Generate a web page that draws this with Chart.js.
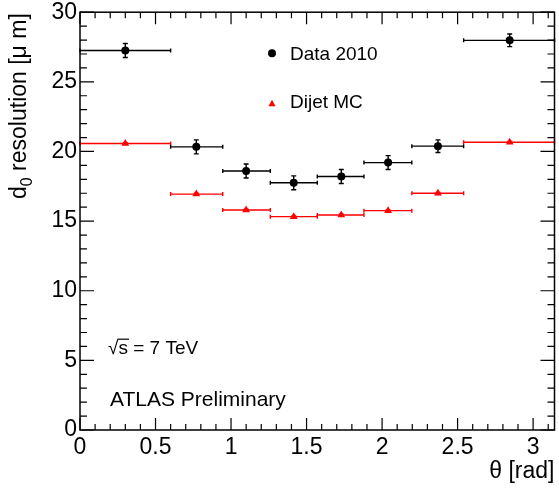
<!DOCTYPE html>
<html>
<head>
<meta charset="utf-8">
<script src="https://cdn.jsdelivr.net/npm/chart.js@4/dist/chart.umd.min.js"></script>
<style>
  html, body { margin: 0; padding: 0; background: #fff; }
  canvas { display: block; }
</style>
</head>
<body>
<canvas id="c" width="559" height="495"></canvas>
<script>
// ====== DATA ======
const binLow  = [0, 0.6, 0.945, 1.26, 1.571, 1.88, 2.197, 2.54];
const binHigh = [0.6, 0.945, 1.26, 1.571, 1.88, 2.197, 2.54, Math.PI];
const thetaCenters = [0.30, 0.77, 1.10, 1.415, 1.73, 2.04, 2.37, 2.845];

const dataRes = [27.25, 20.33, 18.6, 17.75, 18.2, 19.2, 20.38, 27.98];
const dataErr = [0.5, 0.5, 0.5, 0.5, 0.5, 0.5, 0.45, 0.45];
const mcRes   = [20.57, 16.94, 15.8, 15.32, 15.44, 15.75, 17.0, 20.66];
const mcErr   = [0.06, 0.06, 0.05, 0.05, 0.05, 0.05, 0.06, 0.06];

const xTicks = [0, 0.5, 1, 1.5, 2, 2.5, 3];
const yTicks = [0, 5, 10, 15, 20, 25, 30];

const FONT = "'Liberation Sans', Arial, Helvetica, sans-serif";

// ====== HELPERS ======
function drawErrors(ctx, xs, ys, vals, errs, color) {
  ctx.save();
  ctx.strokeStyle = color;
  ctx.lineWidth = 1.4;
  vals.forEach((v, i) => {
    const x1 = xs.getPixelForValue(binLow[i]);
    const x2 = xs.getPixelForValue(binHigh[i]);
    const xc = xs.getPixelForValue(thetaCenters[i]);
    const y  = ys.getPixelForValue(v);
    const yt = ys.getPixelForValue(v + errs[i]);
    const yb = ys.getPixelForValue(v - errs[i]);
    ctx.beginPath();
    ctx.moveTo(x1, y); ctx.lineTo(x2, y);
    ctx.moveTo(x1, y - 2); ctx.lineTo(x1, y + 2);
    ctx.moveTo(x2, y - 2); ctx.lineTo(x2, y + 2);
    ctx.moveTo(xc, yt); ctx.lineTo(xc, yb);
    ctx.moveTo(xc - 2.5, yt); ctx.lineTo(xc + 2.5, yt);
    ctx.moveTo(xc - 2.5, yb); ctx.lineTo(xc + 2.5, yb);
    ctx.stroke();
  });
  ctx.restore();
}

const rootStyle = {
  id: 'rootStyle',
  beforeDatasetsDraw(chart) {
    const { ctx, scales: { x, y } } = chart;
    drawErrors(ctx, x, y, mcRes, mcErr, '#ff0000');
    drawErrors(ctx, x, y, dataRes, dataErr, '#000000');
  },
  afterDraw(chart) {
    const { ctx, chartArea: a, scales: { x, y } } = chart;
    ctx.save();
    // frame
    ctx.strokeStyle = '#000';
    ctx.lineWidth = 1.5;
    ctx.strokeRect(a.left, a.top, a.right - a.left, a.bottom - a.top);

    // ticks, pointing inward, on all four sides
    ctx.lineWidth = 1.2;
    ctx.beginPath();
    for (let k = 0; k <= 31; k++) {
      const v = k / 10;
      const px = x.getPixelForValue(v);
      const len = (k % 5 === 0) ? 12 : 6;
      ctx.moveTo(px, a.bottom); ctx.lineTo(px, a.bottom - len);
      ctx.moveTo(px, a.top);    ctx.lineTo(px, a.top + len);
    }
    for (let k = 0; k <= 30; k++) {
      const py = y.getPixelForValue(k);
      const len = (k % 5 === 0) ? 14 : 7;
      ctx.moveTo(a.left, py);  ctx.lineTo(a.left + len, py);
      ctx.moveTo(a.right, py); ctx.lineTo(a.right - len, py);
    }
    ctx.stroke();

    // y title with subscript, right-aligned to the top of the frame
    ctx.fillStyle = '#000';
    ctx.translate(26, a.top + 1);
    ctx.rotate(-Math.PI / 2);
    ctx.textBaseline = 'alphabetic';
    ctx.textAlign = 'left';
    const big = `23px ${FONT}`, small = `16px ${FONT}`;
    ctx.font = big;
    const wD = ctx.measureText('d').width;
    const rest = ' resolution [\u03BC m]';
    const wR = ctx.measureText(rest).width;
    ctx.font = small;
    const w0 = ctx.measureText('0').width;
    let tx = -(wD + w0 + wR);
    ctx.font = big;
    ctx.fillText('d', tx, 0);
    ctx.font = small;
    ctx.fillText('0', tx + wD, 6);
    ctx.font = big;
    ctx.fillText(rest, tx + wD + w0, 0);
    ctx.setTransform(1, 0, 0, 1, 0, 0);

    // legend
    const lx = a.left + 192;
    ctx.fillStyle = '#000';
    ctx.beginPath();
    ctx.arc(lx, a.top + 41, 4, 0, Math.PI * 2);
    ctx.fill();
    ctx.fillStyle = '#ff0000';
    ctx.beginPath();
    ctx.moveTo(lx, a.top + 87.5);
    ctx.lineTo(lx + 3.5, a.top + 94);
    ctx.lineTo(lx - 3.5, a.top + 94);
    ctx.closePath();
    ctx.fill();
    ctx.fillStyle = '#000';
    ctx.font = `19px ${FONT}`;
    ctx.fillText('Data 2010', lx + 18, a.top + 48);
    ctx.fillText('Dijet MC', lx + 18, a.top + 96);

    // annotations
    ctx.font = `19px ${FONT}`;
    const sx = a.left + 28, sy = a.top + 342;
    ctx.fillText('\u221A', sx, sy);
    const wSq = ctx.measureText('\u221A').width;
    ctx.fillText('s = 7 TeV', sx + wSq, sy);
    const wS = ctx.measureText('s').width;
    ctx.lineWidth = 1.2;
    ctx.beginPath();
    ctx.moveTo(sx + wSq - 1, sy - 15);
    ctx.lineTo(sx + wSq + wS + 1, sy - 15);
    ctx.stroke();

    ctx.font = `21px ${FONT}`;
    ctx.fillText('ATLAS Preliminary', a.left + 30, a.top + 394);
    ctx.restore();
  }
};

// ====== CHART ======
new Chart(document.getElementById('c'), {
  type: 'scatter',
  data: {
    datasets: [
      {
        label: 'Dijet MC',
        data: thetaCenters.map((t, i) => ({ x: t, y: mcRes[i] })),
        pointStyle: 'triangle', pointRadius: 4.5,
        backgroundColor: '#ff0000', borderColor: '#ff0000', borderWidth: 0
      },
      {
        label: 'Data 2010',
        data: thetaCenters.map((t, i) => ({ x: t, y: dataRes[i] })),
        pointStyle: 'circle', pointRadius: 4,
        backgroundColor: '#000', borderColor: '#000', borderWidth: 0
      }
    ]
  },
  options: {
    responsive: false,
    animation: false,
    devicePixelRatio: 1,
    layout: { padding: { top: 11, right: 2, left: 0, bottom: 0 } },
    plugins: { legend: { display: false }, tooltip: { enabled: false } },
    scales: {
      x: {
        type: 'linear', min: 0, max: Math.PI,
        afterBuildTicks: s => { s.ticks = xTicks.map(v => ({ value: v })); },
        afterFit: s => { s.height = 65; },
        grid: { display: false, drawTicks: false },
        border: { display: false },
        ticks: {
          color: '#000', padding: 8, maxRotation: 0, autoSkip: false,
          font: { family: FONT, size: 23, lineHeight: 0.8 },
          callback: v => String(v)
        },
        title: {
          display: true, text: '\u03B8 [rad]', align: 'end', color: '#000',
          font: { family: FONT, size: 23 }, padding: { top: 0, bottom: 10 }
        }
      },
      y: {
        type: 'linear', min: 0, max: 30,
        afterBuildTicks: s => { s.ticks = yTicks.map(v => ({ value: v })); },
        afterFit: s => { s.width = 80; },
        grid: { display: false, drawTicks: false },
        border: { display: false },
        ticks: {
          color: '#000', padding: 3, autoSkip: false,
          font: { family: FONT, size: 23, lineHeight: 0.8 }
        }
      }
    }
  },
  plugins: [rootStyle]
});
</script>
</body>
</html>
